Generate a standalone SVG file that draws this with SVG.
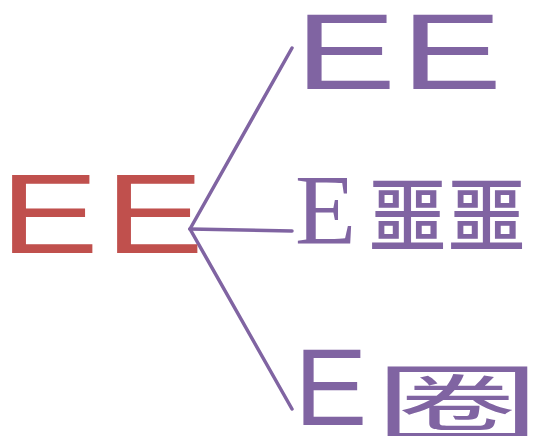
<svg xmlns="http://www.w3.org/2000/svg" width="533" height="436" viewBox="0 0 533 436">
<style>
.sans{font-family:"Liberation Sans",Arial,sans-serif}
.serif{font-family:"Liberation Serif","Times New Roman",serif}
.cjk{font-family:"Noto Sans CJK SC","Noto Sans CJK JP",sans-serif}
.red{fill:#C0504D}
.pur{fill:#8064A2}
.conn{stroke:#8064A2;stroke-width:3.5;fill:none;stroke-linecap:round}
</style>
<rect width="533" height="436" fill="#fff"/>
<g id="connectors">
<line class="conn" x1="190" y1="229" x2="292" y2="48"/>
<line class="conn" x1="190" y1="229" x2="292" y2="231"/>
<line class="conn" x1="190" y1="229" x2="292" y2="409"/>
</g>
<g id="root">
<text class="sans red" font-size="113" letter-spacing="4.8" transform="translate(0,253) scale(1.31,1)">EE</text>
</g>
<g id="child1">
<text class="sans pur" font-size="107.5" letter-spacing="3.5" transform="translate(295,89) scale(1.41,1)">EE</text>
</g>
<g id="child2">
<text class="pur" y="243"><tspan class="serif" x="295" font-size="100">E</tspan><tspan class="cjk" x="368" y="245" font-size="79" font-weight="500">噩噩</tspan></text>
</g>
<g id="child3">
<text class="sans pur" x="294.6" y="425" font-size="109">E</text>
<text class="cjk pur" font-size="85" transform="translate(374,435) scale(1.96,1)">圈</text>
</g>
</svg>
